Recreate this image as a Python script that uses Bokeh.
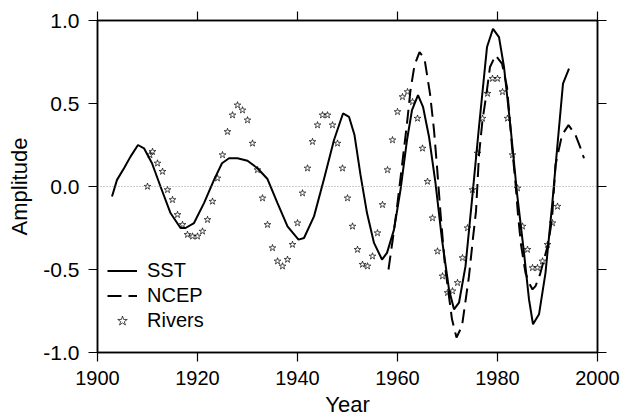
from bokeh.plotting import figure
from bokeh.models import (FixedTicker, PrintfTickFormatter, LinearAxis, Span,
                          Legend, LegendItem, Range1d)
from bokeh.embed import file_html
from bokeh.resources import INLINE

# ---- data ----
sst_year = [1902.9, 1903.9, 1905.3, 1906.6, 1908.1, 1909.3, 1910.9, 1912.6, 1914.6,
            1916.6, 1917.6, 1919.3, 1921.3, 1923.3, 1924.9, 1926.3, 1928.0, 1930.0,
            1932.0, 1934.0, 1936.0, 1938.0, 1940.2, 1941.3, 1943.3, 1945.3, 1947.3,
            1949.1, 1950.3, 1951.4, 1952.6, 1953.9, 1955.3, 1956.9, 1957.9, 1959.3,
            1960.6, 1961.9, 1962.9, 1964.1, 1965.1, 1966.3, 1967.6, 1968.9, 1970.3,
            1971.3, 1972.3, 1973.6, 1974.9, 1976.3, 1977.9, 1979.1, 1980.3, 1981.3,
            1982.6, 1983.9, 1985.3, 1986.3, 1987.1, 1988.3, 1989.6, 1990.9, 1991.9,
            1993.1, 1994.3]
sst_val = [-0.06, 0.04, 0.11, 0.18, 0.25, 0.23, 0.14, 0.00, -0.16,
           -0.25, -0.25, -0.22, -0.10, 0.04, 0.14, 0.17, 0.17, 0.155,
           0.11, 0.045, -0.10, -0.24, -0.32, -0.31, -0.18, 0.045, 0.28,
           0.44, 0.42, 0.31, 0.07, -0.16, -0.34, -0.44, -0.40, -0.26,
           -0.02, 0.28, 0.46, 0.55, 0.48, 0.30, 0.02, -0.32, -0.62,
           -0.74, -0.70, -0.48, -0.08, 0.36, 0.84, 0.95, 0.90, 0.72,
           0.36, -0.04, -0.40, -0.68, -0.83, -0.77, -0.52, -0.12, 0.22,
           0.62, 0.71]

ncep_year = [1958.2, 1959.0, 1959.8, 1960.8, 1961.9, 1962.6, 1963.4, 1964.4, 1965.4,
             1966.5, 1967.3, 1967.9, 1968.6, 1969.5, 1970.9, 1971.8, 1972.9, 1974.3,
             1975.1, 1975.7, 1976.3, 1977.0, 1977.8, 1978.5, 1979.6, 1980.9, 1981.9,
             1982.9, 1983.6, 1984.1, 1984.7, 1985.6, 1986.3, 1987.0, 1987.6, 1988.5,
             1989.3, 1990.1, 1990.9, 1991.6, 1992.9, 1994.2, 1995.6, 1996.5, 1997.3]
ncep_val = [-0.50, -0.33, -0.15, 0.10, 0.38, 0.58, 0.73, 0.81, 0.77,
            0.56, 0.34, 0.12, -0.16, -0.48, -0.80, -0.91, -0.84, -0.54,
            -0.31, -0.15, 0.19, 0.40, 0.56, 0.72, 0.79, 0.74, 0.60,
            0.24, 0.02, -0.17, -0.35, -0.52, -0.58, -0.62, -0.60, -0.53,
            -0.44, -0.35, -0.20, 0.13, 0.31, 0.37, 0.31, 0.24, 0.17]

riv_year = [1910, 1910.5, 1911, 1912, 1913, 1914, 1915, 1916, 1917, 1918, 1919,
            1920, 1921, 1922, 1923, 1924, 1925, 1926, 1927, 1928, 1929, 1930,
            1931, 1932, 1933, 1934, 1935, 1936, 1937, 1938, 1939, 1940, 1941,
            1942, 1943, 1944, 1945, 1946, 1947, 1948, 1949, 1950, 1951, 1952,
            1953, 1954, 1955, 1956, 1957, 1958, 1959, 1960, 1961, 1962, 1963,
            1964, 1965, 1966, 1967, 1968, 1969, 1970, 1971, 1972, 1973, 1974,
            1975, 1976, 1977, 1978, 1979, 1980, 1981, 1982, 1983, 1984, 1985,
            1986, 1987, 1988, 1989, 1990, 1991, 1992]
riv_val = [0.00, 0.19, 0.21, 0.14, 0.09, -0.02, -0.08, -0.17, -0.23, -0.29, -0.30,
           -0.30, -0.27, -0.20, -0.09, 0.05, 0.19, 0.33, 0.43, 0.49, 0.46, 0.40,
           0.26, 0.10, -0.07, -0.23, -0.37, -0.45, -0.48, -0.44, -0.35, -0.22, -0.04,
           0.11, 0.27, 0.37, 0.43, 0.43, 0.37, 0.26, 0.11, -0.07, -0.24, -0.38,
           -0.47, -0.48, -0.42, -0.28, -0.11, 0.10, 0.28, 0.45, 0.54, 0.57, 0.51,
           0.41, 0.23, 0.03, -0.19, -0.39, -0.54, -0.64, -0.63, -0.58, -0.43, -0.25,
           -0.02, 0.20, 0.41, 0.56, 0.65, 0.65, 0.57, 0.41, 0.19, -0.01, -0.24,
           -0.38, -0.49, -0.49, -0.45, -0.35, -0.22, -0.12]

x_ticks = [1900, 1920, 1940, 1960, 1980, 2000]
y_ticks = [-1.0, -0.5, 0.0, 0.5, 1.0]

FONT = "Liberation Sans"

p = figure(width=621, height=419, x_range=Range1d(1900, 2000), y_range=Range1d(-1, 1),
           output_backend="svg", toolbar_location=None,
           min_border_left=97, min_border_right=24, min_border_top=20, min_border_bottom=65)
p.grid.visible = False
p.outline_line_color = "black"
p.outline_line_width = 1.5
p.background_fill_color = "white"
p.border_fill_color = "white"

bottom = p.below[0]
left = p.left[0]

bottom.axis_label = "Year"
left.axis_label = "Amplitude"
bottom.ticker = FixedTicker(ticks=x_ticks)
left.ticker = FixedTicker(ticks=y_ticks)
left.formatter = PrintfTickFormatter(format="%.1f")

top = LinearAxis(ticker=FixedTicker(ticks=x_ticks), major_label_text_font_size="0px",
                 major_label_text_color=None, major_label_standoff=0)
right = LinearAxis(ticker=FixedTicker(ticks=y_ticks), major_label_text_font_size="0px",
                   major_label_text_color=None, major_label_standoff=0)
p.add_layout(top, "above")
p.add_layout(right, "right")

for ax in [bottom, left, top, right]:
    ax.major_tick_out = 9
    ax.major_tick_in = 0
    ax.minor_tick_line_color = None
    ax.axis_line_width = 1.5
    ax.major_tick_line_width = 1.2
    ax.axis_line_color = "black"
    ax.major_tick_line_color = "black"

for ax in [bottom, left]:
    ax.major_label_text_font = FONT
    ax.major_label_text_color = "black"
    ax.axis_label_text_font = FONT
    ax.axis_label_text_font_size = "22px"
    ax.axis_label_text_font_style = "normal"
    ax.axis_label_text_color = "black"
bottom.major_label_text_font_size = "20px"
left.major_label_text_font_size = "21px"
bottom.major_label_standoff = 9
bottom.axis_label_standoff = 4
left.major_label_standoff = 9
left.axis_label_standoff = 8

zero = Span(location=0, dimension="width", line_color="#808080", line_dash="1 2",
            line_width=0.8)
p.add_layout(zero)

r_sst = p.line(sst_year, sst_val, line_color="black", line_width=2)
r_ncep = p.line(ncep_year, ncep_val, line_color="black", line_width=2, line_dash="14 7")
r_riv = p.scatter(riv_year, riv_val, marker="star", size=7, fill_color=None,
                  line_color="black", line_width=0.7)

legend = Legend(items=[LegendItem(label="SST", renderers=[r_sst]),
                       LegendItem(label="NCEP", renderers=[r_ncep]),
                       LegendItem(label="Rivers", renderers=[r_riv])],
                location=(10, 19), border_line_color=None, background_fill_alpha=0,
                padding=0, margin=0, spacing=0, glyph_width=30, glyph_height=25,
                label_height=25, label_standoff=10, label_text_font=FONT,
                label_text_font_size="20px", label_text_color="black")
p.add_layout(legend)

open("out.html", "w").write(file_html(p, INLINE))
